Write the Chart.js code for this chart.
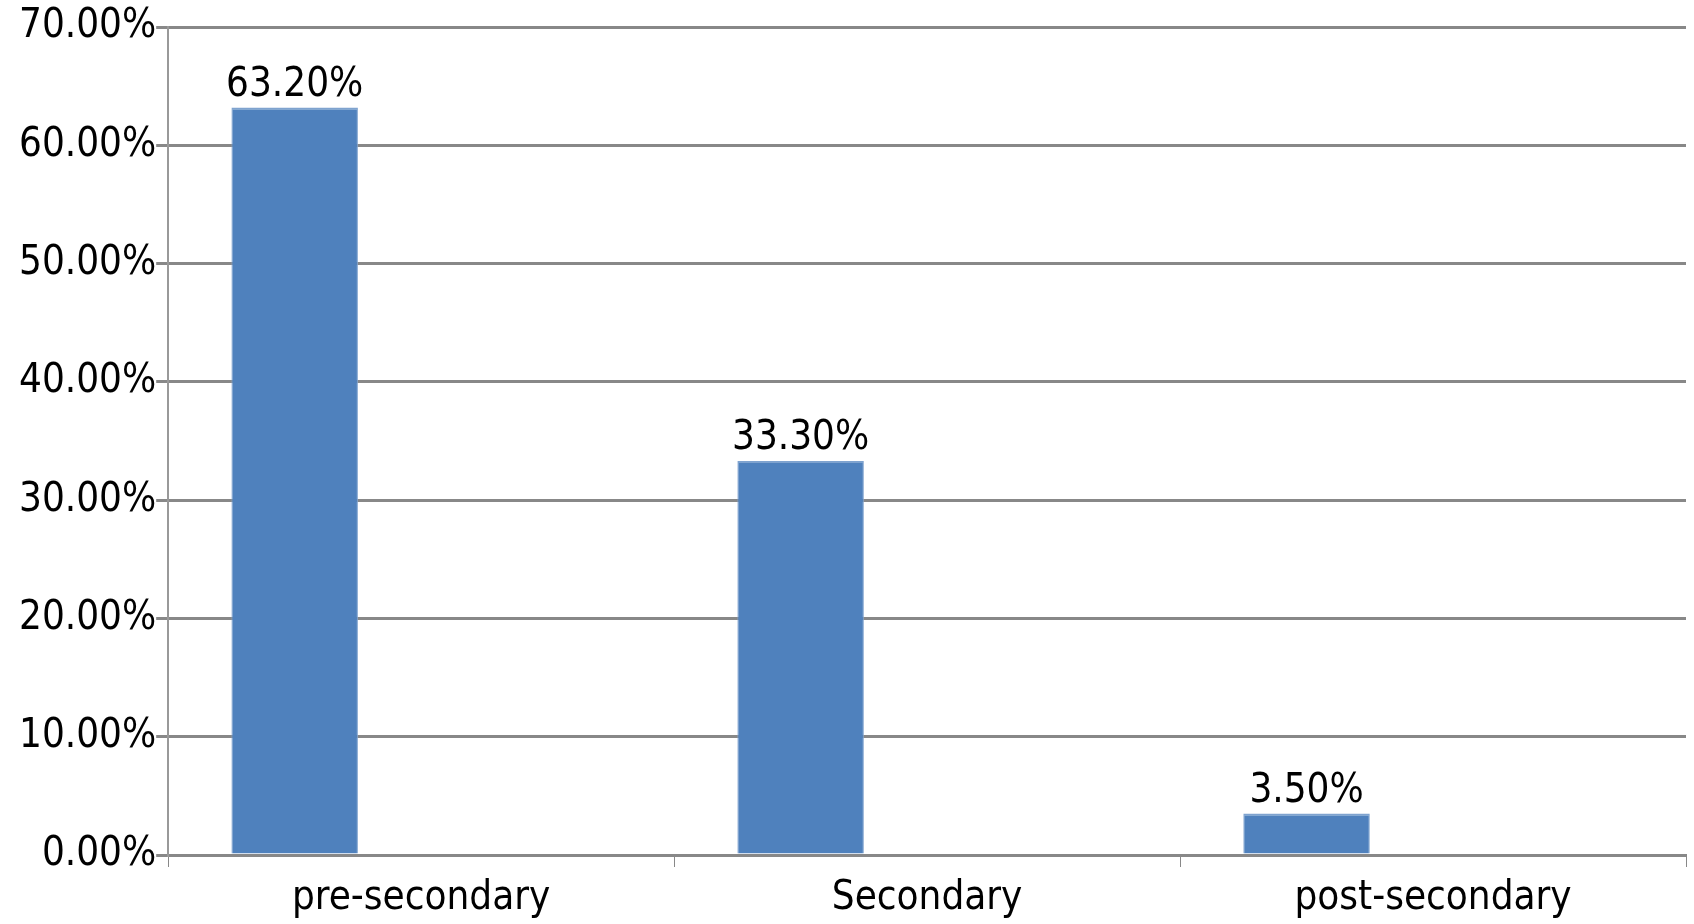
<!DOCTYPE html>
<html><head><meta charset="utf-8">
<script src="https://cdn.jsdelivr.net/npm/chart.js@4"></script>
<style>html,body{margin:0;background:#fff}#w{width:1694px;height:924px}</style>
</head><body><div id="w"><canvas id="c"></canvas></div>
<script>
const categories = ["pre-secondary","Secondary","post-secondary"];
const values = [63.2, 33.3, 3.5];
const labels = ["63.20%","33.30%","3.50%"];
const FONT = "'Liberation Sans Narrow','DejaVu Sans Condensed',sans-serif";
const labelPlugin = {
  id:'lbl',
  afterDatasetsDraw(chart){
    const ctx=chart.ctx, meta=chart.getDatasetMeta(0);
    ctx.save(); ctx.font="40px "+FONT; ctx.fillStyle="#000"; ctx.textAlign="center"; ctx.textBaseline="bottom";
    meta.data.forEach((b,i)=>ctx.fillText(labels[i], b.x, b.y-2));
    ctx.restore();
  }
};
new Chart(document.getElementById('c'),{
  type:'bar',
  data:{labels:categories,datasets:[
    {data:values,backgroundColor:'#4F81BD',borderColor:'#7FA3CF',borderWidth:{top:2,left:1,right:1},barPercentage:0.5,categoryPercentage:1.0},
    {data:[null,null,null],barPercentage:0.5,categoryPercentage:1.0}
  ]},
  plugins:[labelPlugin],
  options:{responsive:true,maintainAspectRatio:false,animation:false,
    layout:{padding:{top:27,right:8,left:19,bottom:-7}},
    plugins:{legend:{display:false},tooltip:{enabled:false}},
    scales:{
      x:{grid:{offset:true,drawOnChartArea:false,color:'#888',tickLength:12},border:{color:'#888',width:3},
         ticks:{font:{family:FONT,size:40},color:'#000',padding:8}},
      y:{min:0,max:70,grid:{color:'#888',lineWidth:3,tickLength:12},border:{color:'#999',width:2},
         ticks:{stepSize:10,font:{family:FONT,size:40},color:'#000',padding:0,callback:v=>v.toFixed(2)+'%'}}
    }}
});
</script></body></html>
